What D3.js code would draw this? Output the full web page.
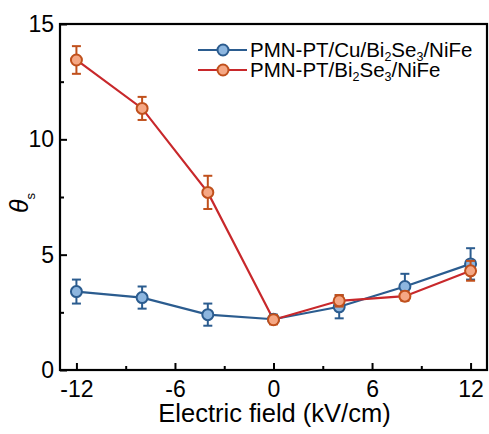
<!DOCTYPE html>
<html><head><meta charset="utf-8">
<script src="https://cdn.jsdelivr.net/npm/d3@7"></script>
<style>body{margin:0;background:#fff}svg{display:block;font-family:"Liberation Sans",Arial,sans-serif}</style>
</head><body><svg id="c" width="489" height="434"></svg>
<script>
const fields = [-12, -8, -4, 0, 4, 8, 12];
const cuValues = [3.40, 3.14, 2.40, 2.20, 2.74, 3.62, 4.60];
const cuErrors = [0.52, 0.48, 0.48, 0.20, 0.50, 0.55, 0.68];
const noCuValues = [13.44, 11.34, 7.70, 2.18, 3.00, 3.20, 4.30];
const noCuErrors = [0.60, 0.50, 0.72, 0.20, 0.25, 0.20, 0.43];
const xMajorTicks = [-12, -6, 0, 6, 12];
const xMinorTicks = [-9, -3, 3, 9];
const yMajorTicks = [0, 5, 10, 15];
const yMinorTicks = [2.5, 7.5, 12.5];

const svg = d3.select("#c");
const L = 60, R = 487, T = 24, B = 370;
const x = d3.scaleLinear().domain([-13, 13]).range([L, R]);
const y = d3.scaleLinear().domain([0, 15]).range([B, T]);

const series = [
  {name: ["PMN-PT/Cu/Bi", "2", "Se", "3", "/NiFe"], v: cuValues, e: cuErrors, line: "#2b5c8f", stroke: "#2b5c8f", fill: "#8db6df"},
  {name: ["PMN-PT/Bi", "2", "Se", "3", "/NiFe"], v: noCuValues, e: noCuErrors, line: "#c8282b", stroke: "#c0501c", fill: "#f5a784"}
];

const fmt = d => String(d);
const fs = 23;
const xAxis = d3.axisBottom(x).tickValues(xMajorTicks).tickSize(-7).tickPadding(11).tickFormat(fmt);
const gx = svg.append("g").attr("transform", `translate(0,${B})`).call(xAxis);
const xMinor = d3.axisBottom(x).tickValues(xMinorTicks).tickSize(-4).tickFormat("");
const gxm = svg.append("g").attr("transform", `translate(0,${B})`).call(xMinor);
const yAxis = d3.axisLeft(y).tickValues(yMajorTicks).tickSize(-7).tickPadding(6).tickFormat(fmt);
const gy = svg.append("g").attr("transform", `translate(${L},0)`).call(yAxis);
const yMinor = d3.axisLeft(y).tickValues(yMinorTicks).tickSize(-4).tickFormat("");
const gym = svg.append("g").attr("transform", `translate(${L},0)`).call(yMinor);
[gx, gxm, gy, gym].forEach(g => {
  g.select(".domain").remove();
  g.selectAll(".tick line").attr("stroke", "#000").attr("stroke-width", 2);
  g.selectAll(".tick text").attr("fill", "#000").attr("font-size", fs).attr("font-family", "Liberation Sans, Arial, sans-serif");
});

svg.append("rect").attr("x", L).attr("y", T).attr("width", R - L).attr("height", B - T)
  .attr("fill", "none").attr("stroke", "#000").attr("stroke-width", 2.2);

svg.append("text").attr("x", (L + R) / 2 + 1).attr("y", 422).attr("text-anchor", "middle")
  .attr("font-size", 25.5).text("Electric field (kV/cm)");
const yt = svg.append("text").attr("transform", `translate(28,${(T + B) / 2 + 6}) rotate(-90)`)
  .attr("text-anchor", "middle").attr("font-size", 25);
yt.append("tspan").attr("font-style", "italic").text("θ");
yt.append("tspan").attr("font-size", 13).attr("dy", 7).text("s");

const line = d3.line().x((d, i) => x(fields[i])).y(d => y(d));
series.forEach(s => {
  svg.append("path").datum(s.v).attr("d", line).attr("fill", "none")
    .attr("stroke", s.line).attr("stroke-width", 2.2);
});
series.forEach(s => {
  const g = svg.append("g");
  s.v.forEach((v, i) => {
    const cx = x(fields[i]);
    const y1 = y(v + s.e[i]), y2 = y(v - s.e[i]);
    g.append("line").attr("x1", cx).attr("x2", cx).attr("y1", y1).attr("y2", y2).attr("stroke", s.stroke).attr("stroke-width", 2);
    [y1, y2].forEach(yy => g.append("line").attr("x1", cx - 4.5).attr("x2", cx + 4.5).attr("y1", yy).attr("y2", yy).attr("stroke", s.stroke).attr("stroke-width", 2));
  });
  g.selectAll("circle").data(s.v).join("circle")
    .attr("cx", (d, i) => x(fields[i])).attr("cy", d => y(d)).attr("r", 5.5)
    .attr("fill", s.fill).attr("stroke", s.stroke).attr("stroke-width", 2);
});

series.forEach((s, k) => {
  const ly = 50 + k * 20;
  const g = svg.append("g");
  g.append("line").attr("x1", 198).attr("x2", 247).attr("y1", ly).attr("y2", ly).attr("stroke", s.line).attr("stroke-width", 2.2);
  g.append("circle").attr("cx", 223).attr("cy", ly).attr("r", 5.5).attr("fill", s.fill).attr("stroke", s.stroke).attr("stroke-width", 2);
  const t = g.append("text").attr("x", 250).attr("y", ly + 7).attr("font-size", 20.5);
  s.name.forEach((part, j) => {
    const sub = j === 1 || j === 3;
    const ts = t.append("tspan").text(part);
    if (sub) ts.attr("font-size", 12.5).attr("dy", 4);
    else if (j > 0) ts.attr("dy", -4);
  });
});
</script></body></html>
